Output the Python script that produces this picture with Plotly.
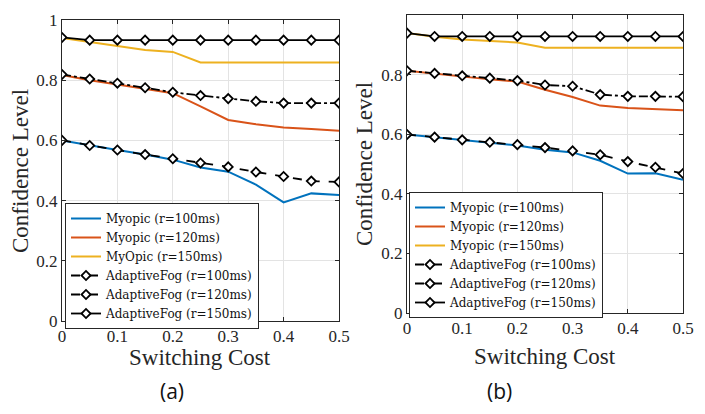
import plotly.graph_objects as go

x = [0, 0.05, 0.1, 0.15, 0.2, 0.25, 0.3, 0.35, 0.4, 0.45, 0.5]

# Panel (a)
a_myopic_100 = [0.600, 0.583, 0.568, 0.553, 0.536, 0.510, 0.496, 0.453, 0.394, 0.424, 0.419]
a_myopic_120 = [0.817, 0.800, 0.786, 0.771, 0.757, 0.713, 0.668, 0.654, 0.643, 0.638, 0.632]
a_myopic_150 = [0.940, 0.928, 0.914, 0.900, 0.894, 0.859, 0.859, 0.859, 0.859, 0.859, 0.859]
a_fog_100 = [0.600, 0.583, 0.568, 0.553, 0.539, 0.525, 0.512, 0.495, 0.480, 0.465, 0.462]
a_fog_120 = [0.819, 0.804, 0.790, 0.775, 0.760, 0.749, 0.739, 0.730, 0.724, 0.724, 0.724]
a_fog_150 = [0.942, 0.933, 0.933, 0.933, 0.933, 0.933, 0.933, 0.933, 0.933, 0.933, 0.933]

# Panel (b)
b_myopic_100 = [0.599, 0.590, 0.579, 0.571, 0.562, 0.548, 0.539, 0.511, 0.468, 0.469, 0.447]
b_myopic_120 = [0.813, 0.803, 0.792, 0.784, 0.777, 0.749, 0.725, 0.696, 0.688, 0.685, 0.680]
b_myopic_150 = [0.940, 0.927, 0.918, 0.912, 0.908, 0.890, 0.890, 0.890, 0.890, 0.890, 0.890]
b_fog_100 = [0.599, 0.590, 0.581, 0.573, 0.565, 0.555, 0.544, 0.531, 0.508, 0.489, 0.468]
b_fog_120 = [0.813, 0.804, 0.796, 0.788, 0.780, 0.765, 0.761, 0.733, 0.727, 0.727, 0.726]
b_fog_150 = [0.939, 0.928, 0.928, 0.928, 0.928, 0.928, 0.928, 0.928, 0.928, 0.928, 0.928]

names_a = ["Myopic (r=100ms)", "Myopic (r=120ms)", "MyOpic (r=150ms)",
           "AdaptiveFog (r=100ms)", "AdaptiveFog (r=120ms)", "AdaptiveFog (r=150ms)"]
names_b = ["Myopic (r=100ms)", "Myopic (r=120ms)", "Myopic (r=150ms)",
           "AdaptiveFog (r=100ms)", "AdaptiveFog (r=120ms)", "AdaptiveFog (r=150ms)"]

xticks = [0, 0.1, 0.2, 0.3, 0.4, 0.5]
xticklabels = ["0", "0.1", "0.2", "0.3", "0.4", "0.5"]
yticks = [0, 0.2, 0.4, 0.6, 0.8, 1]
yticklabels = ["0", "0.2", "0.4", "0.6", "0.8", "1"]

colors = ["#0072BD", "#D95319", "#EDB120"]
dashes = ["dash", "dashdot", "solid"]
SERIF = "Liberation Serif"

fig = go.Figure()

def add_panel(myopic, fog, names, xa, ya, legend):
    for i, ys in enumerate(myopic):
        fig.add_trace(go.Scatter(
            x=x, y=ys, mode="lines", name=names[i],
            line=dict(color=colors[i], width=2),
            xaxis=xa, yaxis=ya, legend=legend))
    for i, ys in enumerate(fog):
        fig.add_trace(go.Scatter(
            x=x, y=ys, mode="lines+markers", name=names[3 + i],
            line=dict(color="black", width=1.8, dash=dashes[i]),
            marker=dict(symbol="diamond", size=7, color="white",
                        line=dict(color="black", width=1.8)),
            xaxis=xa, yaxis=ya, legend=legend))

add_panel([a_myopic_100, a_myopic_120, a_myopic_150],
          [a_fog_100, a_fog_120, a_fog_150], names_a, "x", "y", "legend")
add_panel([b_myopic_100, b_myopic_120, b_myopic_150],
          [b_fog_100, b_fog_120, b_fog_150], names_b, "x2", "y2", "legend2")

axis_common = dict(
    showgrid=True, gridcolor="#e3e3e3", gridwidth=1,
    showline=True, linecolor="#262626", linewidth=1, mirror="ticks",
    ticks="inside", ticklen=4, tickcolor="#262626",
    tickfont=dict(family=SERIF, size=17, color="#262626"),
    zeroline=False, fixedrange=True, automargin=False,
)

# The page body has an 8px margin; reference pixel positions are shifted by it.
OFF = 8
W, H = 705 - 2 * OFF, 414 - 2 * OFF
def px(v):
    return (v - OFF) / W
def py(v):
    return 1 - (v - OFF) / H

legend_font = dict(family="DejaVu Serif", size=12, color="#111111")

def ann(text, xv, yv, size, family=SERIF, angle=0, color="#262626"):
    return dict(text=text, x=px(xv), y=py(yv), xref="paper", yref="paper",
                xanchor="center", yanchor="middle", textangle=angle,
                showarrow=False, font=dict(family=family, size=size, color=color))

fig.update_layout(
    width=W, height=H,
    margin=dict(l=0, r=0, t=0, b=0, autoexpand=False),
    paper_bgcolor="white", plot_bgcolor="white",
    showlegend=True,
    xaxis=dict(domain=[px(62), px(339)], range=[0, 0.5], tickvals=xticks,
               ticktext=xticklabels, anchor="y", **axis_common),
    yaxis=dict(domain=[py(321), py(20)], range=[0, 1], tickvals=yticks,
               ticktext=yticklabels, anchor="x", **axis_common),
    xaxis2=dict(domain=[px(407), px(683)], range=[0, 0.5], tickvals=xticks,
                ticktext=xticklabels, anchor="y2", **axis_common),
    yaxis2=dict(domain=[py(313), py(15)], range=[0, 1], tickvals=yticks,
                ticktext=yticklabels, anchor="x2", **axis_common),
    legend=dict(x=px(65), y=py(203), xanchor="left", yanchor="top",
                bgcolor="white", bordercolor="#262626", borderwidth=1,
                font=legend_font, tracegroupgap=0, itemwidth=30),
    legend2=dict(x=px(409), y=py(192), xanchor="left", yanchor="top",
                 bgcolor="white", bordercolor="#262626", borderwidth=1,
                 font=legend_font, tracegroupgap=0, itemwidth=30),
    annotations=[
        ann("Confidence Level", 20, 171, 23, angle=-90),
        ann("Confidence Level", 365, 164, 23, angle=-90),
        ann("Switching Cost", 200, 357, 23),
        ann("Switching Cost", 545, 356, 23),
        ann("(a)", 172, 391, 21, family="Open Sans", color="#111111"),
        ann("(b)", 499, 391, 21, family="Open Sans", color="#111111"),
    ],
)

fig.write_html("out.html")
